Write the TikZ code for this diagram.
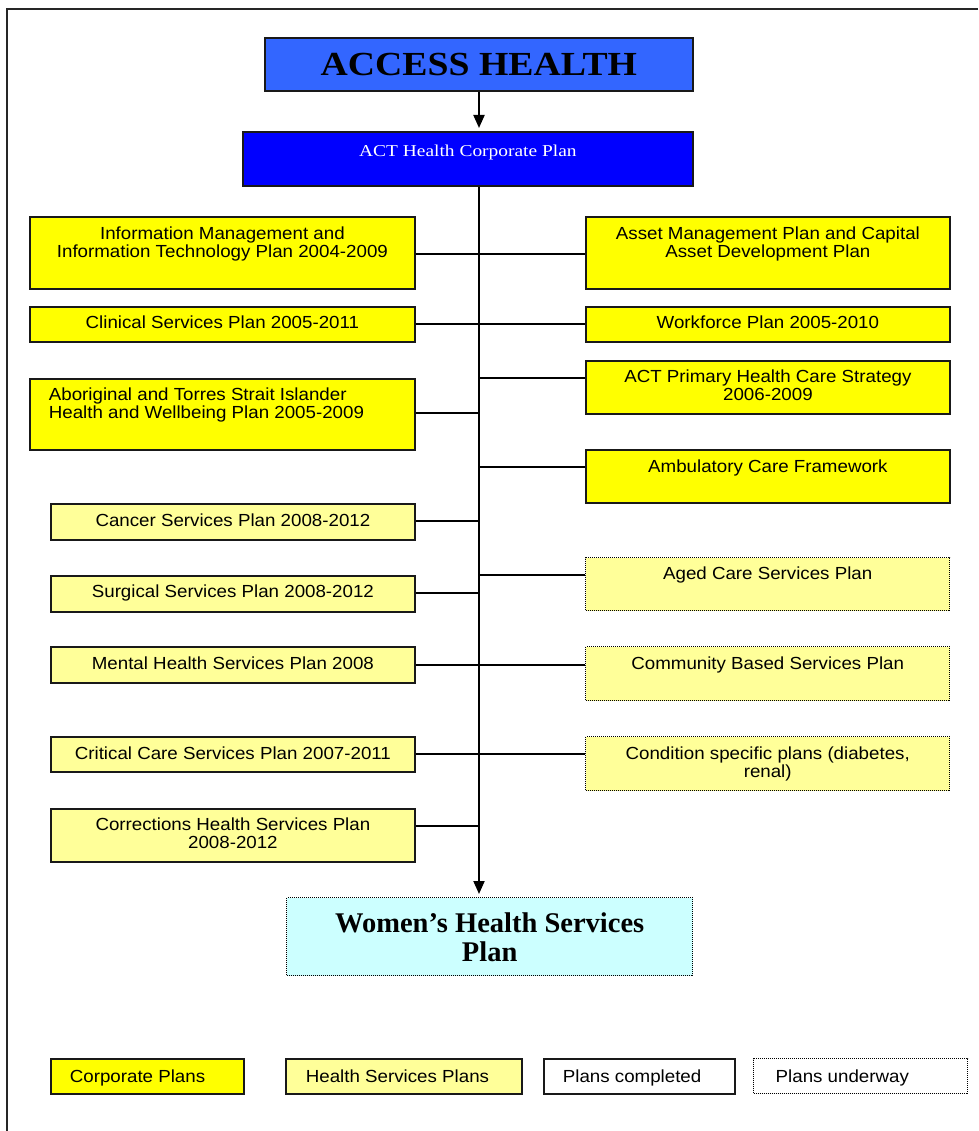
\documentclass[tikz,border=0pt]{standalone}
\usepackage{fontspec}
\usetikzlibrary{arrows.meta}
\setmainfont{Liberation Sans}[FakeStretch=1.07]
\newfontfamily\sansf{Liberation Sans}[FakeStretch=1.07]
\newfontfamily\serifA{Liberation Serif}[FakeStretch=1.12]
\newfontfamily\serifC{Liberation Serif}[FakeStretch=1.17]
\newfontfamily\serifW{Liberation Serif}
\definecolor{accessblue}{HTML}{3366FF}
\definecolor{corpblue}{HTML}{0000FF}
\definecolor{corpyellow}{HTML}{FFFF00}
\definecolor{hsyellow}{HTML}{FFFF99}
\definecolor{womcyan}{HTML}{CCFFFF}
\newcommand\planbox[8]{%
  \pgfmathsetmacro\pw{#5-#3}\pgfmathsetmacro\ph{#6-#4}%
  \node[#2, inner sep=0pt, anchor=north west] (#1) at (#3,#4)
    {\parbox[t][\ph pt][t]{\pw pt}{#8\rule{0pt}{#7pt}}};%
}
\tikzset{
  solidbox/.style={draw=black!90, line width=1.8pt},
  corpbox/.style={solidbox, fill=corpyellow},
  hsbox/.style={solidbox, fill=hsyellow},
  dotbox/.style={draw=black, line width=1.4pt, dash pattern=on 1pt off 1pt},
  conn/.style={line width=1.5pt, draw=black},
  arrowline/.style={line width=2pt, draw=black, -{Triangle[length=13pt,width=11pt]}, shorten >=3pt},
}
\newcommand\sz{\sansf\fontsize{17.5}{18}\selectfont}
\begin{document}
\begin{tikzpicture}[x=1pt,y=-1pt]
\useasboundingbox (0,0) rectangle (978,1131);
% frame
\draw[line width=2pt, black!85] (978,9) -- (7,9) -- (7,1131);
% top boxes
\planbox{access}{solidbox, fill=accessblue}{264}{37}{692}{90}{0}{\centering\serifA\bfseries\fontsize{33.7}{36}\selectfont\rule{0pt}{38pt}ACCESS HEALTH}
\planbox{corp}{solidbox, fill=corpblue}{242}{131}{692}{185}{0}{\centering\color{white}\serifC\fontsize{16.6}{18}\selectfont\rule{0pt}{24.5pt}ACT Health Corporate Plan}
% corporate plans
\planbox{im}{corpbox}{29}{216}{414}{288}{0}{\centering\sz\rule{0pt}{23pt}Information Management and\\Information Technology Plan 2004-2009}
\planbox{asset}{corpbox}{585}{216}{949}{288}{0}{\centering\sz\rule{0pt}{23pt}Asset Management Plan and Capital\\Asset Development Plan}
\planbox{clin}{corpbox}{29}{306}{414}{341}{0}{\centering\sz\rule{0pt}{22pt}Clinical Services Plan 2005-2011}
\planbox{work}{corpbox}{585}{306}{949}{341}{0}{\centering\sz\rule{0pt}{22pt}Workforce Plan 2005-2010}
\planbox{prim}{corpbox}{585}{360}{949}{413}{0}{\centering\sz\rule{0pt}{22pt}ACT Primary Health Care Strategy\\2006-2009}
\planbox{abor}{corpbox}{29}{378}{414}{449}{0}{\raggedright\leftskip=19pt\sz\rule{0pt}{22pt}Aboriginal and Torres Strait Islander\\Health and Wellbeing Plan 2005-2009}
\planbox{amb}{corpbox}{585}{449}{949}{502}{0}{\centering\sz\rule{0pt}{23pt}Ambulatory Care Framework}
% health services plans
\planbox{canc}{hsbox}{50}{503}{414}{539}{0}{\centering\sz\rule{0pt}{23pt}Cancer Services Plan 2008-2012}
\planbox{aged}{dotbox, fill=hsyellow}{585}{557}{949}{610}{0}{\centering\sz\rule{0pt}{22pt}Aged Care Services Plan}
\planbox{surg}{hsbox}{50}{575}{414}{611}{0}{\centering\sz\rule{0pt}{22pt}Surgical Services Plan 2008-2012}
\planbox{ment}{hsbox}{50}{646}{414}{682}{0}{\centering\sz\rule{0pt}{23pt}Mental Health Services Plan 2008}
\planbox{comm}{dotbox, fill=hsyellow}{585}{646}{949}{700}{0}{\centering\sz\rule{0pt}{23pt}Community Based Services Plan}
\planbox{crit}{hsbox}{50}{736}{414}{771}{0}{\centering\sz\rule{0pt}{23pt}Critical Care Services Plan 2007-2011}
\planbox{cond}{dotbox, fill=hsyellow}{585}{736}{949}{790}{0}{\centering\sz\rule{0pt}{23pt}Condition specific plans (diabetes,\\renal)}
\planbox{corr}{hsbox}{50}{808}{414}{861}{0}{\centering\sz\rule{0pt}{22pt}Corrections Health Services Plan\\2008-2012}
% women's
\planbox{wom}{dotbox, fill=womcyan}{286}{897}{692}{975}{0}{\centering\serifW\bfseries\fontsize{28.5}{29}\selectfont\rule{0pt}{35pt}Women’s Health Services\\Plan}
% legend
\planbox{lc}{corpbox}{50}{1058}{243}{1093}{0}{\raggedright\leftskip=19pt\sz\rule{0pt}{24pt}Corporate Plans}
\planbox{lh}{hsbox}{285}{1058}{521}{1093}{0}{\raggedright\leftskip=20pt\sz\rule{0pt}{24pt}Health Services Plans}
\planbox{lp}{solidbox, fill=white}{543}{1058}{734}{1093}{0}{\raggedright\leftskip=19pt\sz\rule{0pt}{24pt}Plans completed}
\planbox{lu}{dotbox, fill=white}{753}{1058}{967}{1093}{0}{\raggedright\leftskip=22pt\sz\rule{0pt}{24pt}Plans underway}
% trunk coordinates
\coordinate (tx) at (479,185);
\coordinate (t1) at (479,254);
\coordinate (t2) at (479,324);
\coordinate (t3) at (479,378);
\coordinate (t4) at (479,413);
\coordinate (t5) at (479,467);
\coordinate (t6) at (479,521);
\coordinate (t7) at (479,575);
\coordinate (t8) at (479,593);
\coordinate (t9) at (479,665);
\coordinate (t10) at (479,754);
\coordinate (t11) at (479,826);
% arrows
\draw[arrowline] (access.south -| tx) -- (tx |- corp.north);
\draw[arrowline] (tx |- corp.south) -- (tx |- wom.north);
% connectors
\draw[conn] (im.east |- t1) -- (asset.west |- t1);
\draw[conn] (clin.east |- t2) -- (work.west |- t2);
\draw[conn] (t3) -- (prim.west |- t3);
\draw[conn] (abor.east |- t4) -- (t4);
\draw[conn] (t5) -- (amb.west |- t5);
\draw[conn] (canc.east |- t6) -- (t6);
\draw[conn] (t7) -- (aged.west |- t7);
\draw[conn] (surg.east |- t8) -- (t8);
\draw[conn] (ment.east |- t9) -- (comm.west |- t9);
\draw[conn] (crit.east |- t10) -- (cond.west |- t10);
\draw[conn] (corr.east |- t11) -- (t11);
\end{tikzpicture}
\end{document}
